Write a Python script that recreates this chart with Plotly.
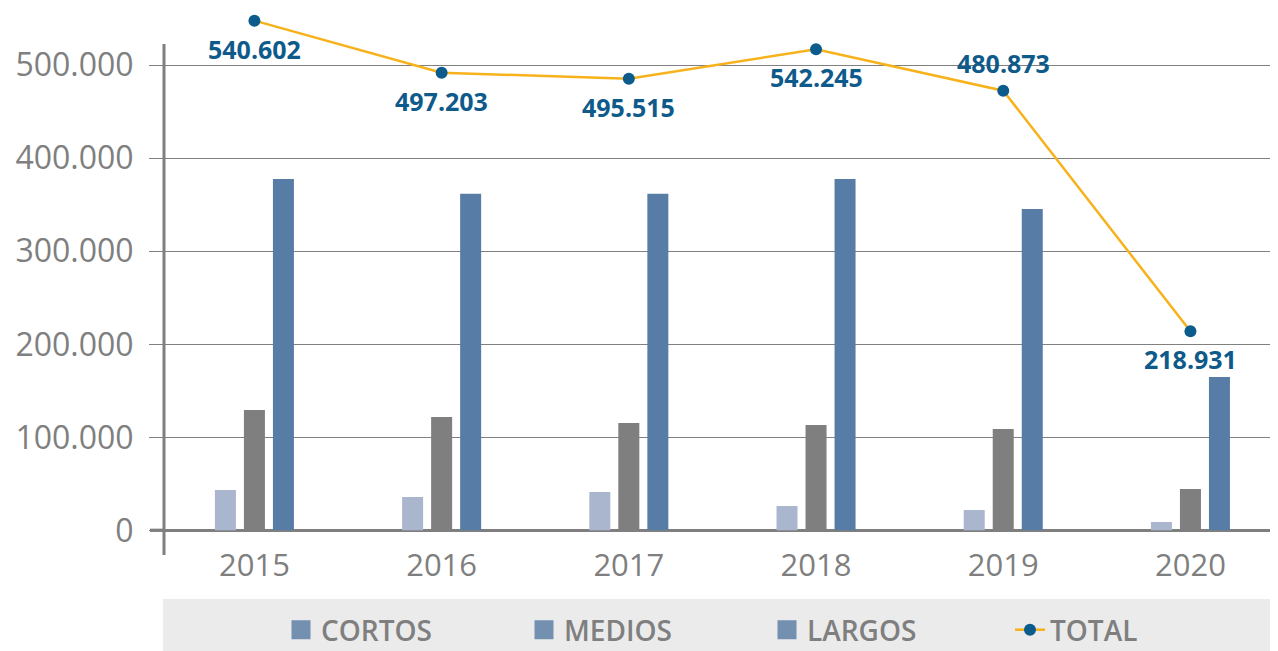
import plotly.graph_objects as go

# ---- data ----
years = ["2015", "2016", "2017", "2018", "2019", "2020"]
cortos = [43300, 35800, 41200, 26100, 21800, 8900]
medios = [129400, 121800, 115400, 113200, 108900, 44400]
largos = [377700, 361900, 361900, 377700, 345500, 164800]
total_pos = [548000, 492000, 485600, 517200, 472700, 214000]
total_labels = ["540.602", "497.203", "495.515", "542.245", "480.873", "218.931"]
label_side = ["below", "below", "below", "below", "above", "below"]
y_ticks = [0, 100000, 200000, 300000, 400000, 500000]
y_tick_text = ["0", "100.000", "200.000", "300.000", "400.000", "500.000"]
legend_names = ["CORTOS", "MEDIOS", "LARGOS"]

# ---- style ----
FONT = "Open Sans"
GRAY = "#7f7f7f"
C_CORTOS = "#aab6ce"
C_MEDIOS = "#7f7f7f"
C_LARGOS = "#577da7"
C_LEGSQ = "#7490b0"
C_LINE = "#f7b21b"
C_DOT = "#0b5b8c"
C_LABEL = "#0e5a8a"

OFF = 8                      # page body margin in the browser
W, H = 1278 - OFF, 651 - OFF
ML, MR, MT, MB = 156, 5, 4, 107
PW = W - ML - MR
PH = H - MT - MB
PB = H - MB                  # figure row of the plot bottom


def pxp(page_x):
    return (page_x - OFF - ML) / PW


def pyp(page_y):
    return (PB - (page_y - OFF)) / PH


fig = go.Figure()
for name, vals, col in [("CORTOS", cortos, C_CORTOS),
                        ("MEDIOS", medios, C_MEDIOS),
                        ("LARGOS", largos, C_LARGOS)]:
    fig.add_trace(go.Bar(x=years, y=vals, name=name, marker_color=col,
                         marker_line_width=0, showlegend=False))

# legend-only square markers (all in the same blue-grey as in the reference)
for name in legend_names:
    fig.add_trace(go.Scatter(x=[None], y=[None], mode="markers", name=name,
                             marker=dict(symbol="square", size=18, color=C_LEGSQ,
                                         line=dict(color=C_LEGSQ, width=3))))

fig.add_trace(go.Scatter(
    x=years, y=total_pos, name="TOTAL", mode="lines+markers",
    line=dict(color=C_LINE, width=2.5),
    marker=dict(color=C_DOT, size=12),
    cliponaxis=False))

for i, (yv, t, side) in enumerate(zip(total_pos, total_labels, label_side)):
    fig.add_annotation(x=i, y=yv, xref="x", yref="y", text=t, showarrow=False,
                       yshift=28 if side == "above" else -28,
                       font=dict(family=FONT, size=25, color=C_LABEL, weight=700))

# legend background band
fig.add_shape(type="rect", xref="paper", yref="paper",
              x0=pxp(163), x1=pxp(1276), y0=pyp(651), y1=pyp(599),
              fillcolor="#ebebeb", line_width=0, layer="below")
# vertical axis line
fig.add_shape(type="line", xref="paper", yref="paper",
              x0=0, x1=0, y0=pyp(555), y1=pyp(44),
              line=dict(color=GRAY, width=3), layer="above")
# baseline extension to the left of the axis
fig.add_shape(type="line", xref="paper", yref="y",
              x0=-14 / PW, x1=0, y0=0, y1=0,
              line=dict(color=GRAY, width=3.3), layer="above")

fig.update_layout(
    width=W, height=H,
    margin=dict(l=ML, r=MR, t=MT, b=MB, autoexpand=False),
    paper_bgcolor="white", plot_bgcolor="white",
    barmode="group", bargap=0.535, bargroupgap=0.276,
    font=dict(family=FONT, color=GRAY),
    showlegend=True,
    legend=dict(orientation="h", xref="container", yref="container",
                x=273 / W, xanchor="left",
                y=(H - (630 - OFF)) / H, yanchor="middle",
                bgcolor="rgba(0,0,0,0)", entrywidth=198,
                font=dict(family=FONT, size=28, color=GRAY, weight=600),
                traceorder="normal"),
    xaxis=dict(type="category", range=[-0.483, 5.441], showgrid=False,
               showline=False, ticks="", zeroline=False, automargin=False,
               tickfont=dict(family=FONT, size=31, color=GRAY)),
    yaxis=dict(range=[-14730, 557300], tickvals=y_ticks, ticktext=y_tick_text,
               showgrid=True, gridcolor="#808080", gridwidth=1,
               zeroline=True, zerolinecolor=GRAY, zerolinewidth=3.3,
               showline=False, automargin=False,
               ticks="outside", ticklen=14, tickwidth=1, tickcolor="#808080",
               tickfont=dict(family=FONT, size=32, color=GRAY),
               ticklabelstandoff=9),
)

fig.write_html("out.html")
